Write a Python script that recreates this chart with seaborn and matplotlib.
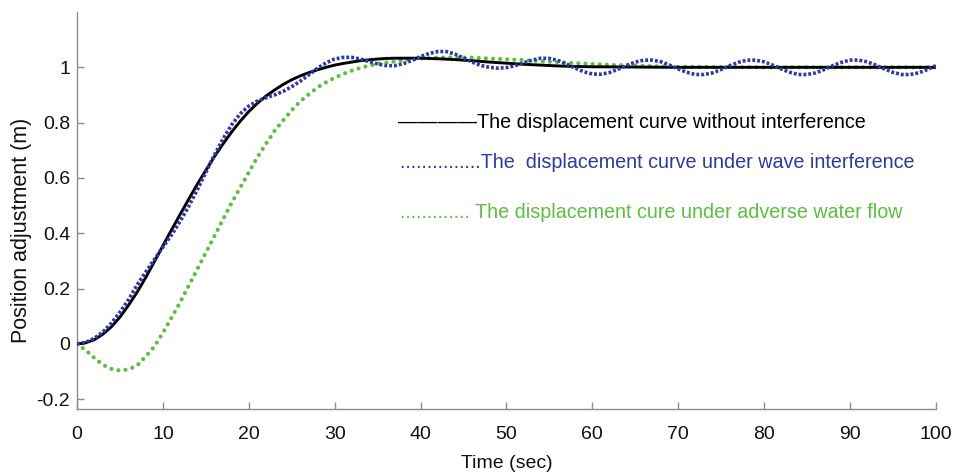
import matplotlib
matplotlib.use("Agg")
import matplotlib.pyplot as plt
import seaborn as sns
import pandas as pd

# ---------------- data ----------------
time_black = list(range(0, 41)) + [42, 44, 46, 48, 50, 52, 54, 56, 58, 60, 65, 70, 75, 80, 85, 90, 95, 100]
disp_black = [0.0, 0.004, 0.015, 0.035, 0.062, 0.097, 0.14, 0.187, 0.24, 0.297,
              0.355, 0.412, 0.468, 0.523, 0.577, 0.628, 0.677, 0.723, 0.766, 0.805,
              0.84, 0.87, 0.896, 0.918, 0.938, 0.955, 0.969, 0.981, 0.991, 1.0,
              1.008, 1.014, 1.019, 1.024, 1.027, 1.03, 1.032, 1.033, 1.033, 1.033,
              1.033, 1.031, 1.028, 1.024, 1.019, 1.015, 1.011, 1.008, 1.005, 1.003,
              1.002, 1.001, 1.0, 1.0, 1.0, 1.0, 1.0, 1.0, 1.0]

time_wave = list(range(0, 101))
disp_wave = [0.0, 0.006, 0.02, 0.043, 0.075, 0.115, 0.16, 0.213, 0.26, 0.305,
             0.35, 0.394, 0.443, 0.497, 0.557, 0.62, 0.683, 0.741, 0.792, 0.832,
             0.86, 0.878, 0.89, 0.9, 0.913, 0.93, 0.95, 0.973, 0.997, 1.016,
             1.03, 1.036, 1.036, 1.03, 1.021, 1.012, 1.006, 1.006, 1.013, 1.025,
             1.039, 1.05, 1.057, 1.057, 1.048, 1.034, 1.019, 1.007, 1.0, 0.997,
             0.999, 1.006, 1.016, 1.026, 1.033, 1.032, 1.025, 1.012, 0.997, 0.984,
             0.976, 0.975, 0.981, 0.993, 1.007, 1.019, 1.026, 1.026, 1.02, 1.008,
             0.994, 0.982, 0.974, 0.974, 0.98, 0.992, 1.006, 1.018, 1.026, 1.026,
             1.02, 1.008, 0.994, 0.982, 0.974, 0.974, 0.98, 0.992, 1.006, 1.018,
             1.026, 1.026, 1.02, 1.008, 0.994, 0.982, 0.974, 0.974, 0.98, 0.992,
             1.006]

time_flow = list(range(0, 39)) + [40, 42, 44, 46, 48, 50, 52, 54, 56, 58, 60, 62, 64, 66, 68, 70, 75, 80, 85, 90, 95, 100]
disp_flow = [0.0, -0.022, -0.05, -0.075, -0.09, -0.096, -0.092, -0.078, -0.045, -0.01,
             0.04, 0.095, 0.15, 0.21, 0.27, 0.33, 0.39, 0.45, 0.51, 0.565,
             0.62, 0.675, 0.723, 0.77, 0.808, 0.845, 0.877, 0.903, 0.927, 0.946,
             0.962, 0.976, 0.988, 0.998, 1.006, 1.012, 1.017, 1.021, 1.025,
             1.032, 1.035, 1.036, 1.035, 1.032, 1.029, 1.026, 1.022, 1.018, 1.015,
             1.012, 1.009, 1.007, 1.005, 1.003, 1.002, 1.001, 1.0, 1.0, 1.0, 1.0, 1.0]

labels = ["\u2014\u2014\u2014\u2014The displacement curve without interference",
          "...............The  displacement curve under wave interference",
          "............. The displacement cure under adverse water flow"]
x_ticks = [0, 10, 20, 30, 40, 50, 60, 70, 80, 90, 100]
y_ticks = [-0.2, 0, 0.2, 0.4, 0.6, 0.8, 1]
y_tick_labels = ["-0.2", "0", "0.2", "0.4", "0.6", "0.8", "1"]

# ---------------- style ----------------
sns.set_theme(style="white")
plt.rcParams["font.family"] = ["Liberation Sans", "DejaVu Sans"]
plt.rcParams["axes.unicode_minus"] = False

BLACK = "#000000"
BLUE = "#2e3a9f"
GREEN = "#5cbf40"
SPINE = "#8c8c8c"
TXT = "#111111"

df_black = pd.DataFrame({"t": time_black, "y": disp_black})
df_wave = pd.DataFrame({"t": time_wave, "y": disp_wave})
df_flow = pd.DataFrame({"t": time_flow, "y": disp_flow})

fig = plt.figure(figsize=(9.54, 4.76), dpi=100)
ax = fig.add_axes([0.0807, 0.1408, 0.9003, 0.834])

sns.lineplot(data=df_flow, x="t", y="y", ax=ax, color=GREEN, linewidth=3.0,
             estimator=None, sort=False, zorder=2)
ax.lines[-1].set_dashes((0.01, 1.7))
ax.lines[-1].set_dash_capstyle("round")
sns.lineplot(data=df_black, x="t", y="y", ax=ax, color=BLACK, linewidth=2.1,
             estimator=None, sort=False, zorder=3)
sns.lineplot(data=df_wave, x="t", y="y", ax=ax, color=BLUE, linewidth=2.6,
             estimator=None, sort=False, zorder=4)
ax.lines[-1].set_dashes((0.8, 0.55))

ax.set_xlim(0, 100)
ax.set_ylim(-0.235, 1.2)
ax.set_xticks(x_ticks)
ax.set_xticklabels([str(v) for v in x_ticks])
ax.set_yticks(y_ticks)
ax.set_yticklabels(y_tick_labels)

sns.despine(ax=ax, top=True, right=True)
for s in ("left", "bottom"):
    ax.spines[s].set_color(SPINE)
    ax.spines[s].set_linewidth(1.0)
ax.tick_params(axis="both", direction="in", length=5, width=1.0, color=SPINE,
               labelsize=14, labelcolor=TXT, left=True, bottom=True)
ax.tick_params(axis="y", pad=5)
ax.tick_params(axis="x", pad=12)

ax.set_xlabel("Time (sec)", fontsize=14, color=TXT, labelpad=9)
ax.set_ylabel("Position adjustment (m)", fontsize=15.5, color=TXT)
ax.yaxis.set_label_coords(-0.052, 0.45)

# legend-like annotation texts
ax.text(37.4, 0.80, labels[0], color=BLACK, fontsize=14.2, va="center", ha="left")
ax.text(37.6, 0.655, labels[1], color=BLUE, fontsize=14.2, va="center", ha="left")
ax.text(37.6, 0.477, labels[2], color=GREEN, fontsize=14.2, va="center", ha="left")

fig.savefig("out.png", dpi=100)
